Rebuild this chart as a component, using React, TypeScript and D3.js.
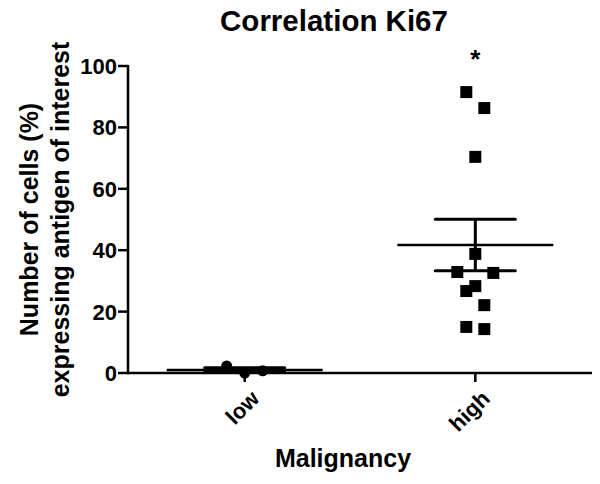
import React from "react";
import * as d3 from "d3";

const groups = ["low", "high"];
// values, ordered within close-value bins
const lowValues = [2.3, 0.0, 0.7];
const highValues = [91.5, 86.3, 70.4, 38.8, 32.9, 28.3, 32.6, 26.7, 22.1, 15.0, 14.3];
const yTicks = [0, 20, 40, 60, 80, 100];

const W = 600;
const H = 484;
const margin = { top: 66, right: 8, bottom: 111, left: 128 };
const font = "'Liberation Sans', Arial, sans-serif";

// GraphPad-style scatter: points within a value bin are spread sideways
function spread(values: number[], binWidth: number, step: number) {
  const out: { v: number; off: number }[] = [];
  let i = 0;
  while (i < values.length) {
    let j = i + 1;
    while (j < values.length && Math.abs(values[i] - values[j]) < binWidth) j++;
    const k = j - i;
    for (let n = 0; n < k; n++) out.push({ v: values[i + n], off: (n - (k - 1) / 2) * step });
    i = j;
  }
  return out;
}

function stats(values: number[]) {
  const m = d3.mean(values) as number;
  const sem = (d3.deviation(values) as number) / Math.sqrt(values.length);
  return { m, sem };
}

export default function App() {
  const x = d3.scalePoint().domain(groups).range([margin.left, W - margin.right]).padding(0.506);
  const y = d3.scaleLinear().domain([0, 100]).range([H - margin.bottom, margin.top]);
  const y0 = y(0);
  const yMid = (y(0) + y(100)) / 2;

  const series = [
    { name: "low", values: lowValues, shape: "circle" },
    { name: "high", values: highValues, shape: "square" },
  ];

  return (
    <svg width={W} height={H} style={{ position: "absolute", left: 0, top: 0, background: "#fff" }} fontFamily={font}>
      <text x={334} y={31} textAnchor="middle" fontSize={29.5} fontWeight="bold">Correlation Ki67</text>

      {/* y axis */}
      <line x1={margin.left} x2={margin.left} y1={y(100) - 1} y2={y0 + 1.2} stroke="#000" strokeWidth={2.5} />
      {yTicks.map((t) => (
        <g key={t}>
          <line x1={margin.left - 10} x2={margin.left} y1={y(t)} y2={y(t)} stroke="#000" strokeWidth={2.5} />
          <text x={margin.left - 11} y={y(t)} dy="0.36em" textAnchor="end" fontSize={22} fontWeight="bold">{t}</text>
        </g>
      ))}

      {/* x axis */}
      <line x1={margin.left} x2={W - margin.right} y1={y0} y2={y0} stroke="#000" strokeWidth={2.5} />
      {groups.map((g) => {
        const gx = x(g) as number;
        return (
          <g key={g}>
            <line x1={gx} x2={gx} y1={y0} y2={y0 + 9} stroke="#000" strokeWidth={2.5} />
            <text
              transform={`translate(${gx + 5},${y0 + 16}) rotate(-45)`}
              textAnchor="end"
              dy="0.7em"
              fontSize={22}
              fontWeight="bold"
            >
              {g}
            </text>
          </g>
        );
      })}
      <text x={343} y={467} textAnchor="middle" fontSize={25} fontWeight="bold">Malignancy</text>

      {/* y title */}
      <text transform={`translate(38,${yMid}) rotate(-90)`} textAnchor="middle" fontSize={25} fontWeight="bold">
        Number of cells (%)
      </text>
      <text transform={`translate(69,${yMid}) rotate(-90)`} textAnchor="middle" fontSize={25} fontWeight="bold">
        expressing antigen of interest
      </text>

      {series.map((s) => {
        const cx = x(s.name) as number;
        const { m, sem } = stats(s.values);
        const pts = spread(s.values, 5.5, 18);
        return (
          <g key={s.name}>
            {pts.map((p, i) =>
              s.shape === "circle" ? (
                <circle key={i} cx={cx + p.off} cy={y(p.v)} r={5.5} fill="#000" />
              ) : (
                <rect key={i} x={cx + p.off - 6} y={y(p.v) - 6} width={12} height={12} fill="#000" />
              )
            )}
            <line x1={cx - 78} x2={cx + 78} y1={y(m)} y2={y(m)} stroke="#000" strokeWidth={2.5} />
            <line x1={cx} x2={cx} y1={y(m + sem)} y2={y(m - sem)} stroke="#000" strokeWidth={3} />
            <line x1={cx - 40} x2={cx + 40} y1={y(m + sem)} y2={y(m + sem)} stroke="#000" strokeWidth={3} strokeLinecap="round" />
            <line x1={cx - 40} x2={cx + 40} y1={y(m - sem)} y2={y(m - sem)} stroke="#000" strokeWidth={3} strokeLinecap="round" />
          </g>
        );
      })}

      <text x={x("high") as number} y={68} textAnchor="middle" fontSize={26} fontWeight="bold">*</text>
    </svg>
  );
}
